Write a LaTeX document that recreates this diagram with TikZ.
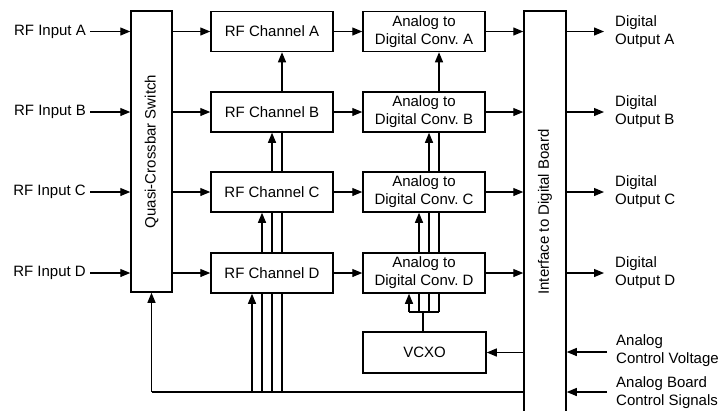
\documentclass[tikz,border=0pt]{standalone}
\usepackage{fontspec}
\setmainfont{Liberation Sans}
\usetikzlibrary{arrows.meta}
\pgfdeclarelayer{background}
\pgfsetlayers{background,main}
\frenchspacing
\begin{document}
\begin{tikzpicture}[x=1pt,y=-1pt,
  font=\fontsize{15}{18}\selectfont,
  box/.style={draw=black,line width=1.5pt,fill=white,inner sep=0pt,align=center},
  conn/.style={line width=1.2pt},
  arr/.style={conn,-{Triangle[length=10pt,width=8pt]}},
  lbl/.style={inner sep=4pt,align=left}]
\useasboundingbox (0,0) rectangle (722,410);
% main boxes
\node[box,minimum width=41pt,minimum height=281pt,
  label={[rotate=90]center:Quasi-Crossbar Switch}] (xbar) at (151.5,151.5) {};
\node[box,minimum width=42pt,minimum height=402pt,
  label={[rotate=90]center:Interface to Digital Board}] (intf) at (545,212) {};
\foreach \r/\y in {A/31.5,B/112,C/192,D/273}{
  \node[box,minimum width=122pt,minimum height=40pt] (rf\r) at (272,\y) {RF Channel \r};
  \node[box,minimum width=122pt,minimum height=40pt] (adc\r) at (424,\y) {Analog to\\Digital Conv. \r};
  \node[lbl,anchor=east] (in\r) at (90,\y) {RF Input \r};
  \node[lbl,anchor=west] (out\r) at (611,\y) {Digital\\Output \r};
  \draw[arr] (in\r.east) -- (in\r.east -| xbar.west);
  \draw[arr] (rf\r.west -| xbar.east) -- (rf\r.west);
  \draw[arr] (rf\r.east) -- (adc\r.west);
  \draw[arr] (adc\r.east) -- (adc\r.east -| intf.west);
  \draw[arr] (out\r.west -| intf.east) -- ([xshift=-7pt]out\r.west);
}
\node[box,minimum width=123pt,minimum height=41pt] (vcxo) at (424.5,352.5) {VCXO};
% control inputs on the right
\node[lbl,anchor=west] (acv) at (612,351) {Analog\\Control Voltage};
\node[lbl,anchor=west] (acs) at (612,393) {Analog Board\\Control Signals};
\coordinate (cv) at (607,352);
\coordinate (cs) at (607,392);
\draw[arr] (cv) -- (cv -| intf.east);
\draw[arr] (cs) -- (cs -| intf.east);
% VCXO control
\draw[arr] (vcxo.east -| intf.west) -- (vcxo.east);
% buses
\coordinate (bus) at (151.5,392);
\coordinate (cbus) at (423,312);
\begin{pgfonlayer}{background}
  \draw[conn] (bus -| intf.west) -- (bus);
  \draw[arr] (bus) -- (xbar.south);
  \foreach \x/\r in {252/D,262/C,272/B,282/A}{
    \draw[arr] (\x,392) -- (\x,0 |- rf\r.south);
  }
  \draw[conn] (409,312) -- (439,312);
  \draw[conn] (vcxo.north -| cbus) -- (cbus);
  \foreach \x/\r in {409/D,419/C,429/B,439/A}{
    \draw[arr] (\x,312) -- (\x,0 |- adc\r.south);
  }
\end{pgfonlayer}
\end{tikzpicture}
\end{document}
